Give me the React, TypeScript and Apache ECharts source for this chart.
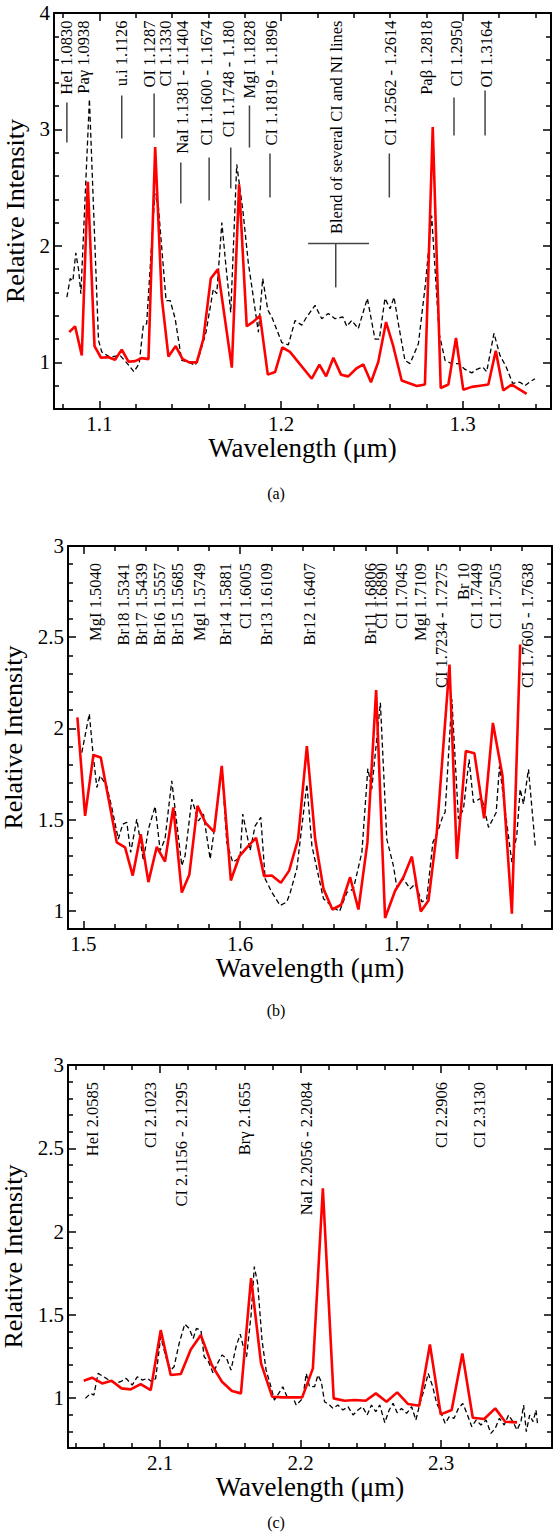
import React, { useEffect, useRef } from "react";
import * as echarts from "echarts";

// ---------- Panel (a) ----------
const aXMajor = [1.1, 1.2, 1.3];
const aYMajor = [1, 2, 3, 4];
const aRed: number[][] = [
  [1.0834, 1.26], [1.0866, 1.31], [1.0903, 1.06], [1.0936, 2.55], [1.0973, 1.14], [1.1009, 1.04],
  [1.105, 1.045], [1.1086, 1.023], [1.1123, 1.11], [1.116, 1.006], [1.1196, 1.011], [1.1233, 1.037],
  [1.127, 1.028], [1.1307, 2.85], [1.1343, 1.56], [1.138, 1.05], [1.142, 1.14], [1.1457, 1.03],
  [1.1494, 1.0], [1.1536, 1.0], [1.1572, 1.2], [1.1613, 1.72], [1.1652, 1.8], [1.1729, 0.955],
  [1.1769, 2.53], [1.1811, 1.31], [1.1848, 1.35], [1.1884, 1.4], [1.1927, 0.895], [1.1967, 0.917],
  [1.2007, 1.13], [1.2049, 1.09], [1.2169, 0.86], [1.2211, 0.98], [1.2248, 0.88], [1.2288, 1.04],
  [1.233, 0.895], [1.237, 0.88], [1.2413, 0.946], [1.2453, 0.983], [1.2495, 0.83], [1.2535, 1.003],
  [1.2578, 1.346], [1.2618, 1.137], [1.2664, 0.845], [1.2747, 0.797], [1.2792, 0.81], [1.2835, 3.02],
  [1.2879, 0.78], [1.2921, 0.81], [1.2963, 1.21], [1.3003, 0.766], [1.305, 0.79], [1.3095, 0.8],
  [1.3141, 0.81], [1.3182, 1.1], [1.3223, 0.76], [1.327, 0.81], [1.3352, 0.73],
];
const aDash: number[][] = [
  [1.0821, 1.56], [1.0839, 1.72], [1.0854, 1.7], [1.087, 1.94], [1.0885, 1.8], [1.0898, 1.59],
  [1.0945, 3.26], [1.0995, 1.19], [1.1013, 1.09], [1.1059, 1.045], [1.1114, 1.06], [1.1154, 0.99],
  [1.119, 0.92], [1.1219, 0.99], [1.1242, 1.32], [1.126, 1.33], [1.1305, 2.45], [1.1325, 2.33],
  [1.1367, 1.53], [1.139, 1.53], [1.1417, 1.375], [1.1453, 1.017], [1.149, 1.003], [1.1527, 0.975],
  [1.155, 1.06], [1.1587, 1.26], [1.1627, 1.63], [1.1646, 1.59], [1.1674, 2.2], [1.1697, 1.82],
  [1.1723, 1.43], [1.1756, 2.7], [1.179, 2.3], [1.182, 1.85], [1.1839, 1.65], [1.1875, 1.26],
  [1.1899, 1.72], [1.1927, 1.45], [1.1949, 1.39], [1.2004, 1.17], [1.204, 1.15], [1.2077, 1.36],
  [1.2114, 1.32], [1.2141, 1.39], [1.2187, 1.49], [1.2224, 1.375], [1.226, 1.42], [1.2297, 1.375],
  [1.234, 1.39], [1.2362, 1.31], [1.2389, 1.36], [1.2425, 1.29], [1.2475, 1.55], [1.2517, 1.2],
  [1.2541, 1.2], [1.2572, 1.55], [1.26, 1.46], [1.2622, 1.56], [1.2646, 1.33], [1.2682, 1.017],
  [1.271, 0.99], [1.2756, 1.16], [1.2796, 1.69], [1.2829, 2.26], [1.287, 1.25], [1.2903, 1.017],
  [1.2939, 0.99], [1.2976, 0.99], [1.3013, 0.94], [1.305, 0.91], [1.3077, 0.94], [1.311, 0.96],
  [1.3132, 0.92], [1.3172, 1.25], [1.3205, 1.06], [1.3238, 0.966], [1.3275, 0.82], [1.3315, 0.83],
  [1.3343, 0.8], [1.3367, 0.83], [1.3398, 0.86],
];
const aLabels = [
  "HeI 1.0830", "Paγ 1.0938", "u.i 1.1126", "OI 1.1287", "CI 1.1330", "NaI 1.1381 - 1.1404",
  "CI 1.1600 - 1.1674", "CI 1.1748 - 1.180", "MgI 1.1828", "CI 1.1819 - 1.1896",
  "Blend of several CI and NI lines", "CI 1.2562 - 1.2614", "Paβ 1.2818", "CI 1.2950", "OI 1.3164",
];
const aLabelX = [1.0817, 1.0912, 1.1123, 1.1274, 1.1362, 1.1459, 1.1591, 1.1708, 1.1824, 1.1945, 1.2307, 1.26, 1.2802, 1.2967, 1.3132];
const aMarkX = [1.0821, null, 1.1123, 1.1301, null, 1.1448, 1.1604, 1.1723, 1.1826, 1.1939, 1.2301, 1.2596, null, 1.2952, 1.3123];
const aMarkTop = [3.232, null, 3.292, 3.309, null, 2.717, 2.76, 2.845, 3.206, 2.794, 2.021, 2.794, null, 3.275, 3.335];
const aMarkBottom = [2.888, null, 2.923, 2.931, null, 2.365, 2.391, 2.494, 2.845, 2.416, 1.644, 2.416, null, 2.948, 2.948];
const aBarFrom = [null, null, null, null, null, null, null, null, null, null, 1.2149, null, null, null, null];
const aBarTo = [null, null, null, null, null, null, null, null, null, null, 1.2484, null, null, null, null];

// ---------- Panel (b) ----------
const bXMajor = [1.5, 1.6, 1.7];
const bYMajor = [1, 1.5, 2, 2.5, 3];
const bRed: number[][] = [
  [1.4962, 2.06], [1.5011, 1.52], [1.5064, 1.854], [1.5111, 1.84], [1.5213, 1.375], [1.5266, 1.348],
  [1.5315, 1.193], [1.5366, 1.42], [1.5415, 1.157], [1.5468, 1.35], [1.5521, 1.27], [1.5574, 1.567],
  [1.5628, 1.1], [1.5676, 1.197], [1.5728, 1.575], [1.5781, 1.48], [1.5834, 1.433], [1.5883, 1.794],
  [1.5941, 1.166], [1.5996, 1.3], [1.6047, 1.35], [1.6102, 1.4], [1.6153, 1.19], [1.6202, 1.193],
  [1.626, 1.153], [1.6313, 1.22], [1.637, 1.393], [1.6426, 1.903], [1.6479, 1.393], [1.6532, 1.12],
  [1.6589, 1.007], [1.6645, 1.033], [1.6702, 1.184], [1.6755, 1.007], [1.6812, 1.372], [1.6868, 2.21],
  [1.6925, 0.96], [1.6989, 1.11], [1.7042, 1.184], [1.7096, 1.297], [1.7153, 0.996], [1.7202, 1.056],
  [1.7255, 1.43], [1.7336, 2.35], [1.7383, 1.284], [1.744, 1.876], [1.7495, 1.863], [1.7557, 1.507],
  [1.7613, 2.03], [1.7674, 1.74], [1.7734, 0.984], [1.7787, 2.46],
];
const bDash: number[][] = [
  [1.499, 1.867], [1.5038, 2.08], [1.506, 1.876], [1.5086, 1.676], [1.5107, 1.74], [1.5149, 1.685],
  [1.5181, 1.567], [1.5223, 1.393], [1.5251, 1.475], [1.5277, 1.485], [1.5302, 1.32], [1.5341, 1.503],
  [1.5383, 1.275], [1.5415, 1.448], [1.5458, 1.572], [1.549, 1.33], [1.5521, 1.393], [1.5564, 1.712],
  [1.5628, 1.247], [1.5649, 1.302], [1.5692, 1.612], [1.5734, 1.493], [1.5766, 1.53], [1.5809, 1.284],
  [1.5851, 1.539], [1.5883, 1.794], [1.5915, 1.375], [1.5953, 1.266], [1.6, 1.293], [1.6017, 1.53],
  [1.6064, 1.33], [1.6096, 1.466], [1.6132, 1.512], [1.616, 1.175], [1.6202, 1.102], [1.6255, 1.029],
  [1.6298, 1.048], [1.632, 1.1], [1.6362, 1.23], [1.6426, 1.694], [1.6458, 1.357], [1.649, 1.23],
  [1.6532, 1.066], [1.6592, 1.02], [1.6634, 0.996], [1.6681, 1.1], [1.6723, 1.12], [1.6777, 1.32],
  [1.6815, 1.78], [1.684, 1.667], [1.6895, 2.14], [1.6936, 1.393], [1.6978, 1.247], [1.7, 1.13],
  [1.7042, 1.175], [1.7085, 1.12], [1.7117, 1.148], [1.716, 1.048], [1.7191, 1.066], [1.723, 1.375],
  [1.7255, 1.42], [1.7294, 1.52], [1.7308, 1.539], [1.7351, 2.16], [1.7393, 1.503], [1.7425, 1.557],
  [1.7461, 1.83], [1.7489, 1.594], [1.7542, 1.62], [1.7585, 1.457], [1.7634, 1.539], [1.7655, 1.794],
  [1.7698, 1.503], [1.7734, 1.266], [1.7766, 1.42], [1.7787, 1.667], [1.7808, 1.585], [1.784, 1.776],
  [1.7883, 1.357],
];
const bLabels = [
  "MgI 1.5040", "Br18 1.5341", "Br17 1.5439", "Br16 1.5557", "Br15 1.5685", "MgI 1.5749",
  "Br14 1.5881", "CI 1.6005", "Br13 1.6109", "Br12 1.6407", "Br11 1.6806", "CI 1.6890",
  "CI 1.7045", "MgI 1.7109", "CI 1.7234 - 1.7275", "Br 10", "CI 1.7449", "CI 1.7505", "CI 1.7605 - 1.7638",
];
const bLabelX = [1.5077, 1.5255, 1.5373, 1.5485, 1.5602, 1.574, 1.5904, 1.6032, 1.617, 1.6442, 1.6834, 1.6904, 1.7032, 1.7149, 1.7287, 1.7425, 1.7511, 1.7627, 1.7833];

// ---------- Panel (c) ----------
const cXMajor = [2.1, 2.2, 2.3];
const cYMajor = [1, 1.5, 2, 2.5, 3];
const cRed: number[][] = [
  [2.0457, 1.104], [2.0516, 1.122], [2.0588, 1.088], [2.0655, 1.104], [2.0726, 1.058], [2.0791, 1.052],
  [2.0862, 1.084], [2.0934, 1.048], [2.1005, 1.408], [2.1076, 1.138], [2.1148, 1.144], [2.1219, 1.292],
  [2.1291, 1.378], [2.1369, 1.198], [2.1441, 1.098], [2.1512, 1.042], [2.1576, 1.028], [2.1648, 1.72],
  [2.1719, 1.208], [2.1798, 1.008], [2.1874, 1.004], [2.2012, 1.004], [2.2088, 1.178], [2.2159, 2.26],
  [2.2236, 0.998], [2.2314, 0.984], [2.2386, 0.988], [2.2464, 0.984], [2.2536, 1.028], [2.2612, 0.978],
  [2.2688, 1.034], [2.2766, 0.964], [2.2845, 0.954], [2.2921, 1.322], [2.2998, 0.902], [2.3076, 0.928],
  [2.3152, 1.268], [2.3226, 0.882], [2.3307, 0.874], [2.3386, 0.938], [2.3457, 0.858], [2.3541, 0.854],
];
const cDash: number[][] = [
  [2.0469, 0.998], [2.0505, 1.028], [2.0529, 1.018], [2.0559, 1.148], [2.06, 1.128], [2.0636, 1.108],
  [2.0684, 1.088], [2.0719, 1.098], [2.0759, 1.118], [2.0802, 1.078], [2.0838, 1.128], [2.0874, 1.108],
  [2.0909, 1.118], [2.0941, 1.098], [2.0969, 1.118], [2.1005, 1.368], [2.1041, 1.248], [2.1076, 1.168],
  [2.11, 1.188], [2.1136, 1.328], [2.1176, 1.444], [2.1207, 1.418], [2.1236, 1.358], [2.1259, 1.418],
  [2.1291, 1.408], [2.1314, 1.248], [2.1345, 1.218], [2.1379, 1.148], [2.1409, 1.208], [2.1441, 1.258],
  [2.1474, 1.238], [2.1505, 1.168], [2.1541, 1.308], [2.1571, 1.384], [2.1593, 1.308], [2.1616, 1.248],
  [2.1648, 1.498], [2.1671, 1.789], [2.1695, 1.689], [2.1726, 1.348], [2.1755, 1.168], [2.1786, 1.078],
  [2.1814, 0.988], [2.1845, 1.028], [2.1874, 1.068], [2.1909, 0.998], [2.1945, 1.008], [2.1969, 0.958],
  [2.1981, 0.968], [2.2016, 0.998], [2.2041, 1.148], [2.2064, 1.068], [2.21, 1.068], [2.2124, 1.138],
  [2.2148, 1.098], [2.2171, 0.978], [2.2207, 0.958], [2.2231, 0.938], [2.2266, 0.958], [2.2302, 0.928],
  [2.2338, 0.948], [2.2374, 0.898], [2.2409, 0.928], [2.2441, 0.948], [2.2474, 0.898], [2.2505, 0.958],
  [2.2536, 0.918], [2.2564, 0.958], [2.26, 0.852], [2.2631, 0.928], [2.2659, 0.968], [2.2688, 0.912],
  [2.2719, 0.938], [2.2755, 0.908], [2.2791, 0.948], [2.2821, 0.868], [2.285, 0.968], [2.2879, 1.048],
  [2.2909, 1.148], [2.2941, 1.068], [2.2969, 0.968], [2.2998, 0.918], [2.3029, 0.848], [2.3059, 0.888],
  [2.3093, 0.878], [2.3124, 0.938], [2.3155, 0.968], [2.3184, 0.908], [2.3219, 0.828], [2.325, 0.868],
  [2.3284, 0.838], [2.3321, 0.868], [2.3355, 0.788], [2.3386, 0.818], [2.3416, 0.878], [2.345, 0.838],
  [2.3481, 0.898], [2.3512, 0.858], [2.3541, 0.808], [2.3569, 0.858], [2.3588, 0.958], [2.3607, 0.798],
  [2.3631, 0.898], [2.3655, 0.858], [2.3676, 0.928], [2.3688, 0.838],
];
const cLabels = ["HeI 2.0585", "CI 2.1023", "CI 2.1156 - 2.1295", "Brγ 2.1655", "NaI 2.2056 - 2.2084", "CI 2.2906", "CI 2.3130"];
const cLabelX = [2.0516, 2.0934, 2.1155, 2.16, 2.2041, 2.3005, 2.3274];

const captions = ["(a)", "(b)", "(c)"];
const xTitle = "Wavelength (μm)";
const yTitle = "Relative Intensity";

const FONT = "Liberation Serif";

function minorTicks(min: number, max: number, step: number, majors: number[]) {
  const out: number[] = [];
  const s = Math.ceil(min / step - 1e-7);
  const e = Math.floor(max / step + 1e-7);
  for (let k = s; k <= e; k++) {
    const v = +(k * step).toFixed(6);
    if (!majors.some((m) => Math.abs(m - v) < 1e-7)) out.push(v);
  }
  return out;
}

type Panel = {
  left: number; top: number; width: number; height: number;
  xMin: number; xMax: number; yMin: number; yMax: number;
  xMajor: number[]; yMajor: number[]; xStep: number; yStep: number;
  red: number[][]; dash: number[][];
  labels: string[]; labelX: number[]; labelTop: number;
  markX?: (number | null)[]; markTop?: (number | null)[]; markBottom?: (number | null)[];
  barFrom?: (number | null)[]; barTo?: (number | null)[];
  caption: string; captionY: number; yNameGap: number;
};

const panels: Panel[] = [
  {
    left: 54, top: 13, width: 497, height: 396, xMin: 1.075, xMax: 1.3486, yMin: 0.6, yMax: 4,
    xMajor: aXMajor, yMajor: aYMajor, xStep: 0.02, yStep: 0.2, red: aRed, dash: aDash,
    labels: aLabels, labelX: aLabelX, labelTop: 3.936, markX: aMarkX, markTop: aMarkTop, markBottom: aMarkBottom,
    barFrom: aBarFrom, barTo: aBarTo, caption: captions[0], captionY: 493, yNameGap: 20,
  },
  {
    left: 68, top: 546, width: 484, height: 383, xMin: 1.4902, xMax: 1.799, yMin: 0.9, yMax: 3,
    xMajor: bXMajor, yMajor: bYMajor, xStep: 0.02, yStep: 0.1, red: bRed, dash: bDash,
    labels: bLabels, labelX: bLabelX, labelTop: 2.907, caption: captions[1], captionY: 1010, yNameGap: 33,
  },
  {
    left: 68, top: 1065, width: 484, height: 383, xMin: 2.0345, xMax: 2.379, yMin: 0.7, yMax: 3,
    xMajor: cXMajor, yMajor: cYMajor, xStep: 0.02, yStep: 0.1, red: cRed, dash: cDash,
    labels: cLabels, labelX: cLabelX, labelTop: 2.898, caption: captions[2], captionY: 1522, yNameGap: 33,
  },
];

function buildOption() {
  const grid: any[] = [];
  const xAxis: any[] = [];
  const yAxis: any[] = [];
  const series: any[] = [];
  const graphic: any[] = [];
  const tickStyle = { color: "#000", width: 1.5 };
  const lineOn = { show: true, onZero: false, lineStyle: { color: "#000", width: 2 } };
  const lineOff = { show: false, onZero: false };

  panels.forEach((p, i) => {
    grid.push({ left: p.left, top: p.top, width: p.width, height: p.height, containLabel: false, outerBoundsMode: "none" });
    const xb = { type: "value", gridIndex: i, min: p.xMin, max: p.xMax, splitLine: { show: false } };
    const yb = { type: "value", gridIndex: i, min: p.yMin, max: p.yMax, splitLine: { show: false } };
    const xMinor = minorTicks(p.xMin, p.xMax, p.xStep, p.xMajor);
    const yMinor = minorTicks(p.yMin, p.yMax, p.yStep, p.yMajor);
    xAxis.push({
      ...xb, position: "bottom", axisLine: lineOn,
      axisTick: { show: true, inside: true, length: 8, customValues: p.xMajor, lineStyle: tickStyle },
      axisLabel: { show: true, customValues: p.xMajor, formatter: (v: number) => String(v), fontFamily: FONT, fontSize: 21, color: "#000", margin: 4 },
      name: xTitle, nameLocation: "middle", nameGap: 19,
      nameTextStyle: { fontFamily: FONT, fontSize: 27, color: "#000" },
    });
    xAxis.push({ ...xb, position: "bottom", axisLine: lineOff, axisTick: { show: true, inside: true, length: 5, customValues: xMinor, lineStyle: tickStyle }, axisLabel: { show: false } });
    xAxis.push({ ...xb, position: "top", axisLine: lineOn, axisTick: { show: true, inside: true, length: 8, customValues: p.xMajor, lineStyle: tickStyle }, axisLabel: { show: false } });
    xAxis.push({ ...xb, position: "top", axisLine: lineOff, axisTick: { show: true, inside: true, length: 5, customValues: xMinor, lineStyle: tickStyle }, axisLabel: { show: false } });

    yAxis.push({
      ...yb, position: "left", axisLine: lineOn,
      axisTick: { show: true, inside: true, length: 8, customValues: p.yMajor, lineStyle: tickStyle },
      axisLabel: { show: true, customValues: p.yMajor, formatter: (v: number) => String(v), fontFamily: FONT, fontSize: 21, color: "#000", margin: 4 },
      name: yTitle, nameLocation: "middle", nameGap: p.yNameGap,
      nameTextStyle: { fontFamily: FONT, fontSize: 26, color: "#000" },
    });
    yAxis.push({ ...yb, position: "left", axisLine: lineOff, axisTick: { show: true, inside: true, length: 5, customValues: yMinor, lineStyle: tickStyle }, axisLabel: { show: false } });
    yAxis.push({ ...yb, position: "right", axisLine: lineOn, axisTick: { show: true, inside: true, length: 8, customValues: p.yMajor, lineStyle: tickStyle }, axisLabel: { show: false } });
    yAxis.push({ ...yb, position: "right", axisLine: lineOff, axisTick: { show: true, inside: true, length: 5, customValues: yMinor, lineStyle: tickStyle }, axisLabel: { show: false } });

    const xi = i * 4;
    series.push({
      type: "line", xAxisIndex: xi, yAxisIndex: xi, data: p.dash, symbol: "none", z: 2,
      lineStyle: { color: "#000", width: 1.3, type: [5, 3] },
    });
    series.push({
      type: "line", xAxisIndex: xi, yAxisIndex: xi, data: p.red, symbol: "none", z: 3,
      lineStyle: { color: "#ff0000", width: 2.6 },
    });
    series.push({
      type: "custom", xAxisIndex: xi, yAxisIndex: xi, silent: true, z: 4,
      data: p.labels.map((_, k) => [p.labelX[k], k]),
      renderItem: (params: any, api: any) => {
        const k = api.value(1);
        const lx = api.value(0);
        const t = api.coord([lx, p.labelTop]);
        const children: any[] = [{
          type: "text", x: t[0], y: t[1], rotation: Math.PI / 2,
          style: { text: p.labels[k], fill: "#000", fontFamily: FONT, fontSize: 16.5, align: "right", verticalAlign: "middle" },
        }];
        if (p.markX && p.markX[k] != null) {
          const a = api.coord([p.markX[k], p.markTop![k]]);
          const b = api.coord([p.markX[k], p.markBottom![k]]);
          children.push({ type: "line", shape: { x1: a[0], y1: a[1], x2: b[0], y2: b[1] }, style: { stroke: "#444", lineWidth: 1.5 } });
        }
        if (p.barFrom && p.barFrom[k] != null) {
          const a = api.coord([p.barFrom[k], p.markTop![k]]);
          const b = api.coord([p.barTo![k], p.markTop![k]]);
          children.push({ type: "line", shape: { x1: a[0], y1: a[1], x2: b[0], y2: b[1] }, style: { stroke: "#444", lineWidth: 1.5 } });
        }
        return { type: "group", children };
      },
    });
    graphic.push({
      type: "text", x: 276, y: p.captionY,
      style: { text: p.caption, fill: "#000", fontFamily: FONT, fontSize: 16, align: "center", verticalAlign: "middle" },
    });
  });

  return { animation: false, backgroundColor: "#fff", textStyle: { fontFamily: FONT }, grid, xAxis, yAxis, series, graphic };
}

export default function App() {
  const ref = useRef<HTMLDivElement>(null);
  useEffect(() => {
    if (!ref.current) return;
    const chart = echarts.init(ref.current, undefined, { renderer: "svg" });
    chart.setOption(buildOption() as any);
    return () => chart.dispose();
  }, []);
  return <div ref={ref} style={{ position: "absolute", left: 0, top: 0, width: 553, height: 1538, background: "#fff" }} />;
}
